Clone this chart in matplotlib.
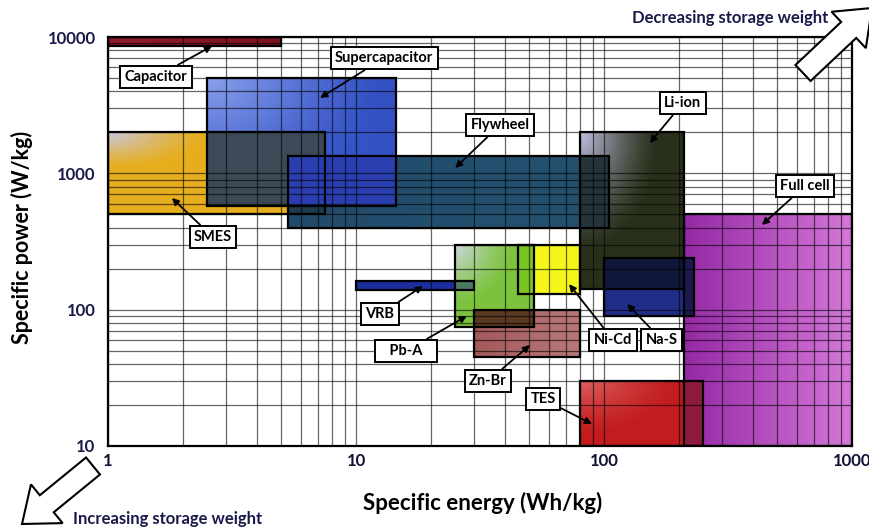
import numpy as np
import matplotlib
matplotlib.use('Agg')
import matplotlib.pyplot as plt
from matplotlib.patches import Rectangle, FancyArrow
from matplotlib.colors import to_rgb
from matplotlib.ticker import FixedLocator, FuncFormatter, NullFormatter, LogLocator
from matplotlib.transforms import IdentityTransform

plt.rcParams['font.family'] = ['Lato', 'DejaVu Sans']

# ---------------- data ----------------
technologies = ['Capacitor', 'Supercapacitor', 'SMES', 'Flywheel', 'Li-ion', 'Full cell',
                'VRB', 'Pb-A', 'Ni-Cd', 'Zn-Br', 'Na-S', 'TES']
energy_low  = [1,    2.5,  1,    5.3,  80,   210,  10,  25,  45,  30,  100, 80]
energy_high = [5,    14.5, 7.5,  105,  210,  1000, 30,  52,  80,  80,  230, 250]
power_low   = [8600, 580,  500,  400,  142,  10,   140, 75,  130, 45,  90,  10]
power_high  = [10000, 5000, 2000, 1350, 2000, 500, 162, 300, 300, 100, 240, 30]

x_ticks = [1, 10, 100, 1000]
y_ticks = [10, 100, 1000, 10000]

# label positions (data coords) and arrow targets
label_pos = {
    'Capacitor': (1.56, 5090), 'Supercapacitor': (12.97, 7010), 'SMES': (2.65, 341),
    'Flywheel': (38.1, 2265), 'Li-ion': (208, 3280), 'Full cell': (646, 807),
    'VRB': (12.5, 92.9), 'Pb-A': (15.9, 49.8), 'Ni-Cd': (108.7, 60),
    'Zn-Br': (34.1, 30), 'Na-S': (171, 60), 'TES': (56.8, 22.1),
}
arrow_tip = {
    'Capacitor': (2.63, 8590), 'Supercapacitor': (7.16, 3570), 'SMES': (1.81, 659),
    'Flywheel': (25.1, 1094), 'Li-ion': (153, 1667), 'Full cell': (433, 418),
    'VRB': (18.6, 149), 'Pb-A': (28.0, 90), 'Ni-Cd': (72.3, 154),
    'Zn-Br': (50.3, 55), 'Na-S': (124, 110), 'TES': (89.5, 14.5),
}
label_text = {'Pb-A': '   Pb-A   '}

# ---------------- styles ----------------
styles = {
    'Capacitor': dict(base='#8c1c2c', right='#7a1222'),
    'Supercapacitor': dict(base='#4060cf', right='#3350c2', hl='#8aa0ea', r=0.9),
    'SMES': dict(base='#e6ae1c', hl='#c8c8e6', r=0.45),
    'Flywheel': dict(base='#214a6a', right='#25506f'),
    'Li-ion': dict(base='#28301a', hl='#c0c0e0', r=0.75),
    'Full cell': dict(base='#9428a4', right='#d478d8'),
    'VRB': dict(base='#1c2e9c'),
    'Pb-A': dict(base='#7cc23c', hl='#d0d8e0', r=0.75),
    'Ni-Cd': dict(base='#f6f61c'),
    'Zn-Br': dict(base='#a4585a', right='#b87878'),
    'Na-S': dict(base='#1f2d86'),
    'TES': dict(base='#c21c1e', hl='#dc6060', r=0.8),
}
overlap_colors = {
    frozenset(['SMES', 'Supercapacitor']): '#3b4a56',
    frozenset(['Flywheel', 'SMES']): '#1e3a4c',
    frozenset(['Flywheel', 'Supercapacitor']): '#2a3eb0',
    frozenset(['Flywheel', 'SMES', 'Supercapacitor']): '#2a3eb0',
    frozenset(['Flywheel', 'Li-ion']): '#25333a',
    frozenset(['Li-ion', 'Na-S']): '#10173a',
    frozenset(['Full cell', 'Na-S']): '#1a1a4e',
    frozenset(['Full cell', 'TES']): '#8e1a3e',
    frozenset(['Pb-A', 'Zn-Br']): '#5a3a22',
    frozenset(['Pb-A', 'VRB']): '#4a7a62',
    frozenset(['Ni-Cd', 'Pb-A']): '#7ac424',
}

fig = plt.figure(figsize=(8.7, 5.29), dpi=100)
ax = fig.add_axes([108/870, 1-446/529, 744/870, 409/529])
ax.set_xscale('log')
ax.set_yscale('log')

# ---------------- colour mesh for rectangles ----------------
xe = np.unique(np.concatenate([np.geomspace(1, 1000, 500), energy_low, energy_high]))
ye = np.unique(np.concatenate([np.geomspace(10, 10000, 400), power_low, power_high]))
xc = np.sqrt(xe[:-1]*xe[1:])
yc = np.sqrt(ye[:-1]*ye[1:])
XC, YC = np.meshgrid(xc, yc)
n = len(technologies)
code = np.zeros(XC.shape, dtype=np.int64)
for k in range(n):
    m = (XC >= energy_low[k]) & (XC <= energy_high[k]) & (YC >= power_low[k]) & (YC <= power_high[k])
    code |= (m.astype(np.int64) << k)

def rect_rgb(k, X, Y):
    s = styles[technologies[k]]
    u = (np.log10(X) - np.log10(energy_low[k])) / (np.log10(energy_high[k]) - np.log10(energy_low[k]))
    v = (np.log10(power_high[k]) - np.log10(Y)) / (np.log10(power_high[k]) - np.log10(power_low[k]))
    base = np.array(to_rgb(s['base']))
    right = np.array(to_rgb(s.get('right', s['base'])))
    col = base*(1-u[:, None]) + right*u[:, None]
    if 'hl' in s:
        w = np.clip(1 - np.sqrt(u**2 + v**2)/s['r'], 0, 1)**1.3
        col = col*(1-w[:, None]) + np.array(to_rgb(s['hl']))*w[:, None]
    return col

C = np.zeros(XC.shape + (4,))
for c in np.unique(code):
    if c == 0:
        continue
    sel = code == c
    members = [k for k in range(n) if (c >> k) & 1]
    key = frozenset(technologies[k] for k in members)
    if len(members) > 1 and key in overlap_colors:
        col = np.tile(np.array(to_rgb(overlap_colors[key])), (sel.sum(), 1))
    else:
        col = rect_rgb(members[-1], XC[sel], YC[sel])
    C[sel, :3] = col
    C[sel, 3] = 1.0
ax.pcolormesh(xe, ye, C, zorder=1)

for k in range(n):
    ax.add_patch(Rectangle((energy_low[k], power_low[k]),
                           energy_high[k]-energy_low[k], power_high[k]-power_low[k],
                           fill=False, ec='black', lw=1.6, zorder=3))

# ---------------- axes styling ----------------
ax.set_xlim(1, 1000)
ax.set_ylim(10, 10000)
ax.xaxis.set_major_locator(FixedLocator(x_ticks))
ax.yaxis.set_major_locator(FixedLocator(y_ticks))
ax.xaxis.set_minor_locator(LogLocator(base=10, subs=np.arange(2, 10)))
ax.yaxis.set_minor_locator(LogLocator(base=10, subs=np.arange(2, 10)))
ax.xaxis.set_minor_formatter(NullFormatter())
ax.yaxis.set_minor_formatter(NullFormatter())
fmt = FuncFormatter(lambda v, p: f'{int(round(v))}')
ax.xaxis.set_major_formatter(fmt)
ax.yaxis.set_major_formatter(fmt)
ax.grid(True, which='both', color='black', alpha=0.6, lw=0.9, zorder=2)
ax.set_axisbelow(False)
ax.tick_params(which='both', length=0)
ax.tick_params(axis='x', pad=5, labelsize=12, labelcolor='#111133')
ax.tick_params(axis='y', pad=9, labelsize=12, labelcolor='#1a1a4a')
for t in ax.get_xticklabels() + ax.get_yticklabels():
    t.set_fontweight('bold')
for sp in ax.spines.values():
    sp.set_linewidth(1.6)
    sp.set_zorder(4)

ax.set_xlabel('Specific energy (Wh/kg)', fontsize=16, fontweight='bold')
ax.set_ylabel('Specific power (W/kg)', fontsize=15.5, fontweight='bold')
ax.xaxis.set_label_coords(0.504, -0.112)
ax.yaxis.set_label_coords(-0.101, 0.51)

# ---------------- labels ----------------
for name in technologies:
    ax.annotate(label_text.get(name, name), xy=arrow_tip[name], xytext=label_pos[name],
                textcoords='data', ha='center', va='center', fontsize=10.5, fontweight='bold',
                zorder=6,
                bbox=dict(boxstyle='square,pad=0.3', fc='white', ec='black', lw=1.4),
                arrowprops=dict(arrowstyle='-|>', color='black', lw=1.3,
                                mutation_scale=10, shrinkA=0, shrinkB=0))

# ---------------- storage weight arrows ----------------
fig.add_artist(FancyArrow(803, 529-73, 69, 65, width=22, head_width=50, head_length=32,
                          length_includes_head=True, fc='white', ec='black', lw=1.5,
                          transform=IdentityTransform()))
fig.add_artist(FancyArrow(93, 529-466, -71, -58, width=22, head_width=50, head_length=32,
                          length_includes_head=True, fc='white', ec='black', lw=1.5,
                          transform=IdentityTransform()))
fig.text(828/870, 1-18/529, 'Decreasing storage weight', ha='right', va='center',
         fontsize=12, fontweight='bold', color='#1a1a4a')
fig.text(73/870, 1-519/529, 'Increasing storage weight', ha='left', va='center',
         fontsize=12, fontweight='bold', color='#1a1a4a')

fig.savefig('out.png', dpi=100)
